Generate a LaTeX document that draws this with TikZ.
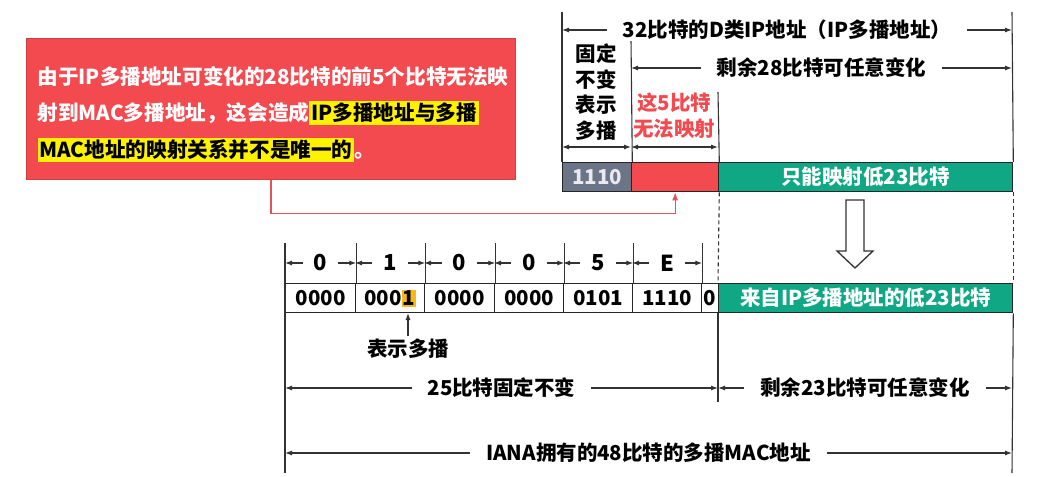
\documentclass[tikz,border=0pt]{standalone}
\usepackage{fontspec}
\setmainfont{Noto Sans CJK SC}
\usetikzlibrary{arrows.meta}
\definecolor{boxred}{RGB}{243,74,80}
\definecolor{boxgray}{RGB}{108,116,136}
\definecolor{boxgreen}{RGB}{16,168,132}
\definecolor{linkred}{RGB}{224,84,96}
\definecolor{bitorange}{RGB}{246,186,24}
\definecolor{paleword}{RGB}{232,234,240}
\newcommand\markyellow[1]{{\fboxsep=2pt\colorbox{yellow}{\color{black}#1}}}
\newcommand\markbit[1]{{\fboxsep=1pt\colorbox{bitorange}{#1}}}

\begin{document}
\begin{tikzpicture}[x=1pt, y=-1pt,
        font=\bfseries\fontsize{20.5}{24}\selectfont,
        cell/.style={draw=black!85, line width=1.3pt, anchor=north west, minimum height=29pt, inner sep=0pt},
        vline/.style={draw=black!80, line width=1.1pt},
        dimline/.style={vline, {Latex[length=7pt,width=5pt]}-{Latex[length=7pt,width=5pt]}},
        dimlabel/.style={fill=white, inner xsep=16pt, inner ysep=1pt},
        hexlabel/.style={fill=white, inner xsep=11pt, inner ysep=1pt, font=\bfseries\fontsize{22}{24}\selectfont},
        link/.style={draw=linkred, line width=1.3pt}]
        \fill[white] (0,0) rectangle (1048,476);
        \useasboundingbox (0,0) rectangle (1048,476);

        % callout
        \node[anchor=north west, minimum width=489pt, minimum height=141pt, fill=boxred, draw=boxred!85!black, line width=0.8pt] (note) at (26,38) {};
        \node[anchor=west, align=left, text=white, font=\bfseries\fontsize{20.6}{36.5}\selectfont] (notetxt) at (34,114) {由于IP多播地址可变化的28比特的前5个比特无法映\\射到MAC多播地址，这会造成\markyellow{IP多播地址与多播}\\\markyellow{MAC地址的映射关系并不是唯一的}。};

        % IP multicast address
        \node[cell, fill=boxgray, text=paleword, minimum width=69pt] (fix) at (562,162) {1110};
        \node[cell, fill=boxred, minimum width=87pt] (lost) at (631,162) {};
        \node[cell, fill=boxgreen, text=white, minimum width=294pt] (low) at (718,162) {只能映射低23比特};

        \coordinate (ipL) at (562,12);
        \coordinate (ipR) at (1012,12);
        \coordinate (fixR) at (631,40);
        \coordinate (lostR) at (718,92);
        \draw[vline] (ipL) -- (fix.north west);
        \draw[vline] (fixR) -- (fix.north east);
        \draw[vline] (lostR) -- (lost.north east);
        \draw[vline] (ipR) -- (low.north east);

        \draw[dimline] (ipL |- 0,30) -- node[dimlabel] (ip32) {32比特的D类IP地址（IP多播地址）} (ipR |- 0,30);
        \draw[dimline] (fixR |- 0,68) -- node[dimlabel] (ip28) {剩余28比特可任意变化} (ipR |- 0,68);
        \draw[dimline] (ipL |- 0,147) -- (fixR |- 0,147);
        \draw[dimline] (fixR |- 0,147) -- (lostR |- 0,147);

        \node[align=center, font=\bfseries\fontsize{20.5}{25.5}\selectfont] (fixtxt) at (596,92) {固定\\不变\\表示\\多播};
        \node[align=center, text=boxred, font=\bfseries\fontsize{20.5}{26}\selectfont] (losttxt) at (674,116) {这5比特\\无法映射};

        \draw[link, -{Latex[length=8pt,width=6pt]}] ([xshift=245pt]note.south west) -- ++(0,34) -| (lost.south);

        % hollow arrow
        \draw[line width=1.3pt, draw=black!80, fill=white] (846,200) -- (864,200) -- (864,251) -- (873,251) -- (855,268) -- (837,251) -- (846,251) -- cycle;

        % multicast MAC address
        \node[cell, minimum width=70pt] (m0) at (285,283) {0000};
        \node[cell, minimum width=69pt] (m1) at (355,283) {000\markbit{1}};
        \node[cell, minimum width=70pt] (m2) at (424,283) {0000};
        \node[cell, minimum width=69pt] (m3) at (494,283) {0000};
        \node[cell, minimum width=69pt] (m4) at (563,283) {0101};
        \node[cell, minimum width=69pt] (m5) at (632,283) {1110};
        \node[cell, minimum width=17pt] (m6) at (701,283) {0};
        \node[cell, fill=boxgreen, text=white, minimum width=294pt] (mlow) at (718,283) {来自IP多播地址的低23比特};

        \draw[vline, dash pattern=on 4pt off 3pt] (lost.south east) -- (mlow.north west);
        \draw[vline, dash pattern=on 4pt off 3pt] (low.south east) -- (mlow.north east);

        \coordinate (macL) at (285,473);
        \coordinate (macR) at (1012,473);
        \coordinate (macM) at (718,402);
        \draw[vline] (m0.north west |- 0,243) -- (macL);
        \draw[vline] (m0.north east |- 0,243) -- (m0.north east);
        \draw[vline] (m1.north east |- 0,243) -- (m1.north east);
        \draw[vline] (m2.north east |- 0,243) -- (m2.north east);
        \draw[vline] (m3.north east |- 0,243) -- (m3.north east);
        \draw[vline] (m4.north east |- 0,243) -- (m4.north east);
        \draw[vline] (m5.north east |- 0,243) -- (m5.north east);
        \draw[vline] (mlow.south west) -- (macM);
        \draw[vline] (mlow.south east) -- (macR);

        \draw[dimline] (m0.west |- 0,263) -- node[hexlabel] (h0) {0} (m0.east |- 0,263);
        \draw[dimline] (m1.west |- 0,263) -- node[hexlabel] (h1) {1} (m1.east |- 0,263);
        \draw[dimline] (m2.west |- 0,263) -- node[hexlabel] (h2) {0} (m2.east |- 0,263);
        \draw[dimline] (m3.west |- 0,263) -- node[hexlabel] (h3) {0} (m3.east |- 0,263);
        \draw[dimline] (m4.west |- 0,263) -- node[hexlabel] (h4) {5} (m4.east |- 0,263);
        \draw[dimline] (m5.west |- 0,263) -- node[hexlabel] (h5) {E} (m5.east |- 0,263);

        \node (bitnote) at (408,349) {表示多播};
        \coordinate (bitpos) at (408,313);
        \draw[vline, -{Latex[length=7pt,width=5pt]}] (bitnote.north) -- (bitpos);

        \draw[dimline] (macL |- 0,388) -- node[dimlabel] (mac25) {25比特固定不变} (macM |- 0,388);
        \draw[dimline] (macM |- 0,388) -- node[dimlabel] (mac23) {剩余23比特可任意变化} (macR |- 0,388);
        \draw[dimline] (macL |- 0,453) -- node[dimlabel] (mac48) {IANA拥有的48比特的多播MAC地址} (macR |- 0,453);
    \end{tikzpicture}
\end{document}
